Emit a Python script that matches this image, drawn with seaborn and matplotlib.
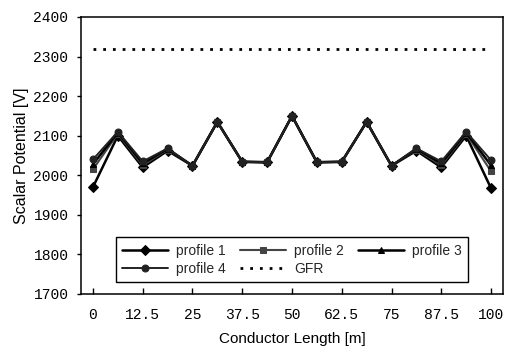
import matplotlib
matplotlib.use("Agg")
import matplotlib.pyplot as plt
import seaborn as sns
import pandas as pd
import numpy as np

# ---- data ----
length = [0, 6.25, 12.5, 18.75, 25, 31.25, 37.5, 43.75, 50,
          56.25, 62.5, 68.75, 75, 81.25, 87.5, 93.75, 100]
profile_1 = [1970, 2100, 2020, 2062, 2024, 2135, 2034, 2033, 2150,
             2033, 2034, 2135, 2024, 2062, 2020, 2100, 1967]
profile_2 = [2015, 2105, 2025, 2065, 2024, 2135, 2034, 2033, 2150,
             2033, 2034, 2135, 2024, 2065, 2025, 2105, 2010]
profile_3 = [2028, 2108, 2030, 2067, 2024, 2135, 2034, 2033, 2150,
             2033, 2034, 2135, 2024, 2067, 2030, 2108, 2025]
profile_4 = [2040, 2110, 2035, 2068, 2024, 2135, 2034, 2033, 2150,
             2033, 2034, 2135, 2024, 2068, 2035, 2110, 2038]
gfr_x = [0, 100]
gfr_y = [2318, 2318]
x_ticks = [0, 12.5, 25, 37.5, 50, 62.5, 75, 87.5, 100]
x_tick_labels = ["0", "12.5", "25", "37.5", "50", "62.5", "75", "87.5", "100"]
y_ticks = [1700, 1800, 1900, 2000, 2100, 2200, 2300, 2400]

sns.set_theme(style="ticks")
plt.rcParams['font.family'] = ['Liberation Sans', 'DejaVu Sans']

fig = plt.figure(figsize=(5.14, 3.57), dpi=100)
ax = fig.add_axes([81/514, 1-294/357, (503-81)/514, (294-17)/357])

series = [
    ("profile 1", profile_1, "D", "black", 1.8),
    ("profile 2", profile_2, "s", "#444444", 1.5),
    ("profile 3", profile_3, "^", "black", 1.8),
    ("profile 4", profile_4, "o", "#222222", 1.4),
]
for name, vals, mk, col, lw in series:
    df = pd.DataFrame({"x": length, "y": vals})
    sns.lineplot(data=df, x="x", y="y", ax=ax, color=col, lw=lw,
                 marker=mk, markersize=5, markeredgecolor=col,
                 markerfacecolor=col, label=name)

gdf = pd.DataFrame({"x": gfr_x, "y": gfr_y})
sns.lineplot(data=gdf, x="x", y="y", ax=ax, color="black", lw=2,
             linestyle=(0, (1, 2.5)), label="GFR")

ax.set_xlim(-3, 103)
ax.set_ylim(1700, 2400)
ax.set_xticks(x_ticks)
ax.set_xticklabels(x_tick_labels)
ax.set_yticks(y_ticks)

for lab in ax.get_xticklabels() + ax.get_yticklabels():
    lab.set_fontfamily('Liberation Mono')
    lab.set_fontsize(10.5)
    lab.set_color('black')

ax.tick_params(axis='x', direction='in', length=4, width=1, pad=10, colors='black')
ax.tick_params(axis='y', direction='out', length=3, width=1, pad=6, colors='black')

for s in ax.spines.values():
    s.set_visible(True)
    s.set_color('black')
    s.set_linewidth(1.1)

ax.set_xlabel("Conductor Length [m]", fontsize=11, labelpad=7, color='black')
ax.set_ylabel("Scalar Potential [V]", fontsize=11.5, labelpad=3, color='black')

# row-wise legend order (matplotlib fills column by column)
h, l = ax.get_legend_handles_labels()
order = [0, 3, 1, 4, 2]
leg = ax.legend([h[i] for i in order], [l[i] for i in order],
                loc='lower center', bbox_to_anchor=(0.5, 0.043), ncol=3,
                frameon=True, fancybox=False, framealpha=1, edgecolor='black',
                fontsize=10, handlelength=3.3, handletextpad=0.6,
                columnspacing=1.0, labelspacing=0.3, borderaxespad=0,
                borderpad=0.45)
leg.get_frame().set_linewidth(1)

fig.savefig("out.png", dpi=100)
